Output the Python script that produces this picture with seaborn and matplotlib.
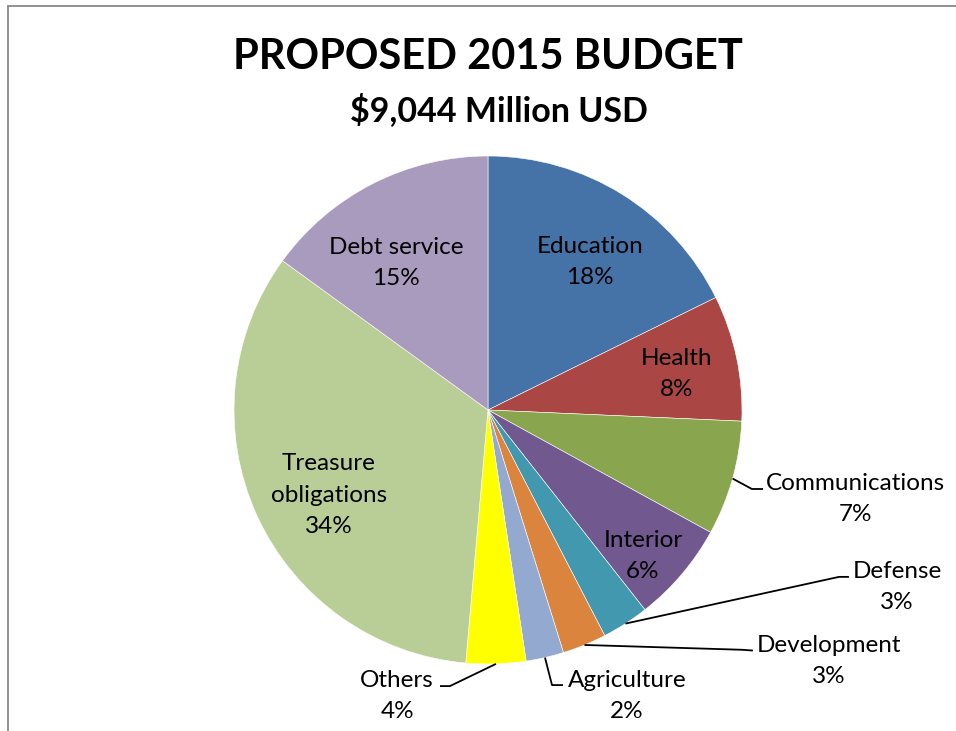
import matplotlib
matplotlib.use("Agg")
import matplotlib.pyplot as plt
from matplotlib.lines import Line2D
import numpy as np
import seaborn as sns

categories = ["Education", "Health", "Communications", "Interior", "Defense",
              "Development", "Agriculture", "Others", "Treasure\nobligations", "Debt service"]
values = [17.7, 8.0, 7.3, 6.4, 3.0, 2.8, 2.4, 3.8, 33.6, 15.0]
colors = ["#4572A7", "#AA4643", "#89A54E", "#71588F", "#4198AF",
          "#DB843D", "#93A9CF", "#FFFF00", "#B9CD96", "#A99BBD"]
title = "PROPOSED 2015 BUDGET"
subtitle = "$9,044 Million USD"

sns.set_theme(style="white")
plt.rcParams['font.family'] = ['Lato', 'DejaVu Sans']

W, H = 956, 731
fig = plt.figure(figsize=(W / 100, H / 100), dpi=100)
fig.patch.set_facecolor("white")

# pie centre and radius in pixels (layout)
cx, cy, R = 488, 410, 254
ax = fig.add_axes([0, 0, 1, 1])
palette = sns.color_palette(colors)
wedges, _ = ax.pie(values, colors=palette, startangle=90, counterclock=False,
                   wedgeprops=dict(edgecolor="white", linewidth=0.4))
ax.set_xlim(-cx / R, (W - cx) / R)
ax.set_ylim(-(H - cy) / R, cy / R)
ax.set_aspect("auto")
ax.axis("off")

fs = 17.5
ls = 1.62
labels = [f"{c}\n{round(v)}%" for c, v in zip(categories, values)]

# inside label positions (data units, layout)
inside = {0: (0.402, 0.583), 1: (0.744, 0.142), 3: (0.610, -0.575),
          8: (-0.626, -0.335), 9: (-0.362, 0.579)}
for i, (x, y) in inside.items():
    ax.text(x, y, labels[i], ha="center", va="center", fontsize=fs,
            linespacing=ls, color="black")

# outside labels: (elbow, end, text centre)
outside = {
    2: ((1.039, -0.311), (1.083, -0.311), (1.445, -0.350)),
    4: ((1.382, -0.657), (1.421, -0.657), (1.610, -0.697)),
    5: ((1.000, -0.944), (1.043, -0.947), (1.343, -0.988)),
    6: ((0.252, -1.083), (0.295, -1.083), (0.547, -1.126)),
    7: ((-0.150, -1.087), (-0.189, -1.087), (-0.358, -1.126)),
}
for i, (elbow, end, tpos) in outside.items():
    w = wedges[i]
    mid = np.deg2rad((w.theta1 + w.theta2) / 2)
    ax_, ay_ = np.cos(mid), np.sin(mid)
    ax.plot([ax_, elbow[0], end[0]], [ay_, elbow[1], end[1]], color="black",
            lw=1.3, solid_capstyle="butt")
    ax.text(tpos[0], tpos[1], labels[i], ha="center", va="center", fontsize=fs,
            linespacing=ls, color="black")

fig.text(488 / W, 1 - 57 / H, title, ha="center", va="center", fontsize=30,
         fontweight="bold", color="black")
fig.text(499 / W, 1 - 110 / H, subtitle, ha="center", va="center", fontsize=24.5,
         fontweight="bold", color="black")

# chart frame edges
fig.add_artist(Line2D([7.5 / W, 7.5 / W], [0, 1 - 5.5 / H], color="#888888", lw=1.3))
fig.add_artist(Line2D([7.5 / W, 1], [1 - 5.5 / H, 1 - 5.5 / H], color="#888888", lw=1.3))

fig.savefig("out.png", dpi=100, facecolor="white")
